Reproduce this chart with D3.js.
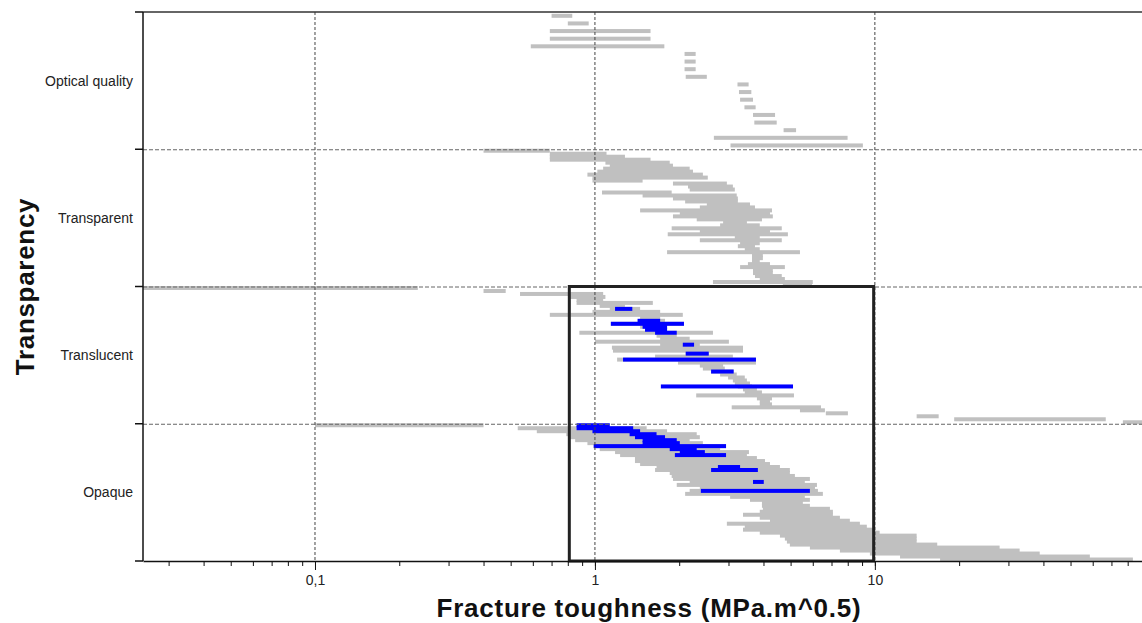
<!DOCTYPE html>
<html lang="en">

<head>
    <meta charset="UTF-8">
    <title>Fracture toughness by transparency</title>
    <style>
        body { margin: 0; background: #fff; }
        svg { display: block; font-family: 'Liberation Sans', Arial, sans-serif; }
    </style>
</head>

<body>
    <script src="https://cdn.jsdelivr.net/npm/d3@7"></script>
    <script>
        const svg_w = 1142;
        const svg_h = 623;
        const margin = { top: 12, right: 0, bottom: 62, left: 143 };

        const categories = ['Optical quality', 'Transparent', 'Translucent', 'Opaque'];
        const x_domain = [0.0243, 90];
        const x_ticks = [0.1, 1, 10];
        const x_tick_labels = ['0,1', '1', '10'];

        // [low, high] fracture toughness, materials listed top to bottom inside each band
        const optical_quality = [
            [0.70, 0.83], [0.80, 0.95], [0.69, 1.58], [0.69, 1.58], [0.59, 1.77],
            [2.09, 2.29], [2.09, 2.29], [2.09, 2.29], [2.11, 2.51], [3.23, 3.54],
            [3.27, 3.62], [3.30, 3.67], [3.42, 3.75], [3.67, 4.40], [3.71, 4.46],
            [4.72, 5.23], [2.66, 7.99], [3.05, 9.06]
        ];

        const transparent = [
            [0.40, 0.69], [0.69, 1.10], [0.69, 1.28], [0.69, 1.58], [1.09, 1.85],
            [1.13, 1.90], [1.07, 2.18], [1.02, 2.24], [0.94, 2.43], [0.98, 2.53],
            [0.98, 1.48], [1.90, 2.96], [2.15, 3.11], [2.18, 3.16], [1.06, 1.88],
            [1.48, 3.21], [1.90, 3.24], [2.10, 3.24], [2.51, 3.58], [2.37, 3.73],
            [1.45, 4.29], [2.01, 4.22], [1.90, 4.32], [2.31, 3.95], [2.87, 3.49],
            [2.80, 3.88], [1.88, 4.65], [2.37, 4.22], [1.82, 4.89], [3.16, 3.88],
            [2.37, 4.65], [3.30, 3.88], [3.24, 3.73], [3.43, 3.88], [1.81, 5.40],
            [3.64, 3.98], [3.64, 3.98], [3.64, 3.88], [3.52, 4.22], [3.30, 4.77],
            [3.67, 4.32], [3.67, 4.32], [3.73, 4.65], [3.88, 4.77], [2.64, 6.00],
            [4.69, 5.96]
        ];

        const translucent = [
            [0.024, 0.233], [0.40, 0.48], [0.54, 1.07], [0.81, 1.09], [0.86, 1.07],
            [0.86, 1.61], [1.04, 1.28], [1.13, 1.45], [0.98, 1.71], [0.69, 2.06],
            [1.45, 1.71], [1.45, 1.78], [1.14, 2.08], [1.45, 1.81], [1.51, 1.81],
            [0.88, 2.64], [1.66, 1.96], [1.71, 2.18], [1.00, 3.01], [1.71, 2.37],
            [1.15, 3.38], [1.16, 3.38], [2.11, 2.55], [1.64, 3.11], [1.20, 3.76],
            [1.98, 3.76], [2.37, 2.87], [2.43, 2.91], [2.60, 3.13], [2.80, 3.21],
            [2.99, 3.43], [3.11, 3.49], [3.16, 3.58], [3.24, 3.64], [3.38, 3.79],
            [3.43, 3.95], [2.30, 5.14], [3.79, 4.29], [3.88, 4.22], [3.88, 4.29],
            [3.08, 6.42], [5.40, 6.63], [6.68, 8.01], [14.1, 16.9], [19.2, 66.8],
            [76.9, 95]
        ];

        const opaque = [
            [0.10, 0.40], [0.53, 1.53], [0.62, 1.81], [0.79, 2.31], [0.81, 2.37],
            [0.85, 2.18], [0.94, 2.43], [0.99, 2.94], [1.04, 2.80], [1.18, 3.55],
            [1.23, 3.49], [1.39, 3.79], [1.39, 4.05], [1.45, 4.22], [1.66, 4.58],
            [1.64, 4.97], [1.85, 4.97], [1.88, 5.18], [1.90, 5.86], [2.18, 5.62],
            [1.96, 6.21], [2.37, 6.11], [2.18, 6.26], [2.10, 6.52], [3.04, 5.62],
            [3.58, 5.86], [3.95, 5.53], [3.95, 5.86], [3.98, 6.91], [3.88, 7.08],
            [3.38, 7.08], [3.88, 7.50], [4.22, 8.14], [2.96, 8.84], [3.43, 9.36],
            [3.38, 10.0], [3.88, 10.4], [4.58, 14.1], [4.77, 14.1], [4.85, 14.1],
            [4.97, 16.7], [5.86, 27.9], [7.50, 32.9], [9.60, 38.8], [12.3, 58.6],
            [17.1, 83.5]
        ];

        // highlighted materials: [slot in band, low, high]
        const translucent_selected = [
            [7, 1.18, 1.36], [11, 1.42, 1.71], [12, 1.14, 2.08], [13, 1.48, 1.81],
            [14, 1.51, 1.81], [15, 1.64, 1.96], [19, 2.06, 2.26], [22, 2.11, 2.55],
            [24, 1.26, 3.76], [28, 2.60, 3.13], [33, 1.72, 5.10]
        ];

        const opaque_selected = [
            [0, 0.86, 1.13], [1, 0.86, 1.37], [2, 0.98, 1.45], [3, 1.33, 1.66],
            [4, 1.39, 1.78], [5, 1.48, 1.96], [6, 1.48, 2.01], [7, 0.99, 2.94],
            [8, 1.85, 2.31], [9, 2.01, 2.47], [10, 1.93, 2.94], [14, 2.75, 3.30],
            [15, 2.60, 3.82], [19, 3.67, 4.01], [22, 2.39, 5.86]
        ];

        const selection_range = [0.81, 9.9];
        const selection_bands = ['Translucent', 'Opaque'];

        const bands = [
            { name: 'Optical quality', all: optical_quality, sel: [] },
            { name: 'Transparent', all: transparent, sel: [] },
            { name: 'Translucent', all: translucent, sel: translucent_selected },
            { name: 'Opaque', all: opaque, sel: opaque_selected }
        ];

        const x = d3.scaleLog()
            .domain(x_domain)
            .range([margin.left, svg_w - margin.right]);

        const y = d3.scaleBand()
            .domain(categories)
            .range([margin.top, svg_h - margin.bottom])
            .padding(0);

        const bar_h = 4;

        const svg = d3.select('body')
            .append('svg')
            .attr('width', svg_w)
            .attr('height', svg_h);

        svg.append('clipPath')
            .attr('id', 'plot_clip')
            .append('rect')
            .attr('x', margin.left)
            .attr('y', margin.top - 2)
            .attr('width', svg_w - margin.left - margin.right)
            .attr('height', svg_h - margin.top - margin.bottom + 4);

        const plot = svg.append('g').attr('clip-path', 'url(#plot_clip)');

        bands.forEach(b => {
            const slot = d3.scaleBand()
                .domain(d3.range(b.all.length))
                .range([y(b.name), y(b.name) + y.bandwidth()]);
            const mid = i => slot(i) + slot.bandwidth() / 2;

            plot.append('g')
                .selectAll('rect')
                .data(b.all)
                .enter()
                .append('rect')
                .attr('x', d => x(Math.max(d[0], x_domain[0] * 0.9)))
                .attr('width', d => x(d[1]) - x(Math.max(d[0], x_domain[0] * 0.9)))
                .attr('y', (d, i) => mid(i) - bar_h / 2)
                .attr('height', bar_h)
                .attr('fill', '#c0c0c0');

            plot.append('g')
                .selectAll('rect')
                .data(b.sel)
                .enter()
                .append('rect')
                .attr('x', d => x(d[1]))
                .attr('width', d => x(d[2]) - x(d[1]))
                .attr('y', d => mid(d[0]) - bar_h / 2)
                .attr('height', bar_h)
                .attr('fill', '#0000ff');
        });

        // vertical grid at decades
        svg.append('g')
            .selectAll('line')
            .data(x_ticks)
            .enter()
            .append('line')
            .attr('x1', d => x(d))
            .attr('x2', d => x(d))
            .attr('y1', margin.top)
            .attr('y2', svg_h - margin.bottom)
            .attr('stroke', '#444')
            .attr('stroke-dasharray', '3,2');

        // band separators
        svg.append('g')
            .selectAll('line')
            .data(categories.slice(1))
            .enter()
            .append('line')
            .attr('x1', margin.left)
            .attr('x2', svg_w - margin.right)
            .attr('y1', d => y(d) + 0.5)
            .attr('y2', d => y(d) + 0.5)
            .attr('stroke', '#666')
            .attr('stroke-dasharray', '4,2');

        svg.append('line')
            .attr('x1', margin.left)
            .attr('x2', svg_w - margin.right)
            .attr('y1', margin.top)
            .attr('y2', margin.top)
            .attr('stroke', '#333')
            .attr('stroke-width', 1.5);

        // selection box
        const box_top = y(selection_bands[0]);
        const box_bottom = y(selection_bands[1]) + y.bandwidth();
        svg.append('rect')
            .attr('x', x(selection_range[0]))
            .attr('y', box_top)
            .attr('width', x(selection_range[1]) - x(selection_range[0]))
            .attr('height', box_bottom - box_top)
            .attr('fill', 'none')
            .attr('stroke', '#222')
            .attr('stroke-width', 3);

        // x axis: minor and major ticks
        const x_axis_y = svg_h - margin.bottom;
        svg.append('g')
            .attr('transform', `translate(0,${x_axis_y})`)
            .call(d3.axisBottom(x).tickValues(x.ticks()).tickSize(5).tickSizeOuter(0).tickFormat(''))
            .call(g => g.select('.domain').attr('stroke', '#111').attr('stroke-width', 1.5))
            .call(g => g.selectAll('.tick line').attr('stroke', '#111'));

        svg.append('g')
            .attr('transform', `translate(0,${x_axis_y})`)
            .call(d3.axisBottom(x).tickValues(x_ticks).tickSize(9).tickSizeOuter(0).tickPadding(5)
                .tickFormat((d, i) => x_tick_labels[i]))
            .call(g => g.select('.domain').remove())
            .call(g => g.selectAll('.tick line').attr('stroke', '#111'))
            .call(g => g.selectAll('.tick text')
                .attr('font-size', '14px')
                .attr('font-family', "'Liberation Sans', Arial, sans-serif")
                .attr('fill', '#222'));

        // y axis
        const y_axis = svg.append('g');
        y_axis.append('line')
            .attr('x1', margin.left)
            .attr('x2', margin.left)
            .attr('y1', margin.top)
            .attr('y2', svg_h - margin.bottom)
            .attr('stroke', '#111')
            .attr('stroke-width', 1.5);

        y_axis.selectAll('line.tick')
            .data(categories.map(c => y(c)).concat([y(categories[categories.length - 1]) + y.bandwidth()]))
            .enter()
            .append('line')
            .attr('class', 'tick')
            .attr('x1', margin.left - 8)
            .attr('x2', margin.left)
            .attr('y1', d => d)
            .attr('y2', d => d)
            .attr('stroke', '#111')
            .attr('stroke-width', 1.5);

        y_axis.selectAll('text')
            .data(categories)
            .enter()
            .append('text')
            .attr('x', margin.left - 10)
            .attr('y', d => y(d) + y.bandwidth() / 2)
            .attr('dy', '0.35em')
            .attr('text-anchor', 'end')
            .attr('font-size', '14px')
            .attr('fill', '#222')
            .text(d => d);

        // titles
        svg.append('text')
            .attr('transform', `translate(34,${(margin.top + svg_h - margin.bottom) / 2}) rotate(-90)`)
            .attr('text-anchor', 'middle')
            .attr('font-size', '26px')
            .attr('font-weight', 'bold')
            .attr('letter-spacing', '0.7px')
            .attr('fill', '#111')
            .text('Transparency');

        svg.append('text')
            .attr('x', 649)
            .attr('y', 617)
            .attr('text-anchor', 'middle')
            .attr('font-size', '26px')
            .attr('font-weight', 'bold')
            .attr('letter-spacing', '0.75px')
            .attr('fill', '#111')
            .text('Fracture toughness (MPa.m^0.5)');
    </script>
</body>

</html>
